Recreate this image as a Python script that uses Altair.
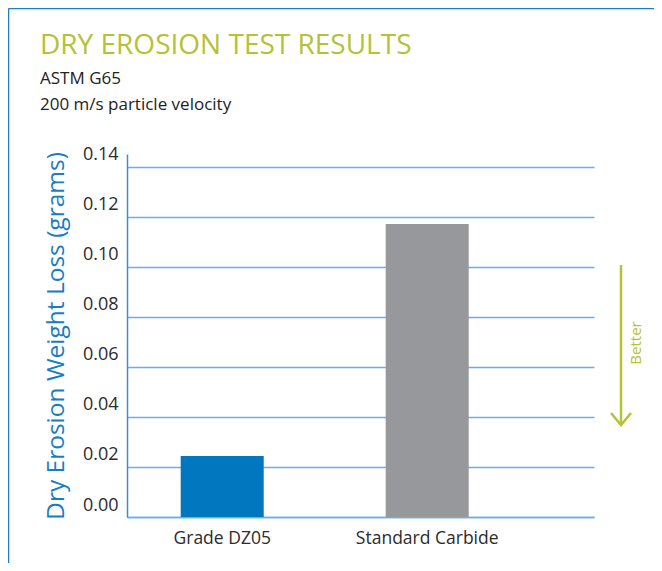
import altair as alt
import pandas as pd

categories = ["Grade DZ05", "Standard Carbide"]
values = [0.0244, 0.117]
bar_colors = ["#0077BE", "#97989C"]
y_ticks = [0.0, 0.02, 0.04, 0.06, 0.08, 0.10, 0.12, 0.14]

title_text = "DRY EROSION TEST RESULTS"
subtitle_lines = ["ASTM G65", "200 m/s particle velocity"]
y_title = "Dry Erosion Weight Loss (grams)"
arrow_label = "Better"

FONT = "Open Sans"
GREEN = "#B4C236"
BLUE = "#1A7DC4"
GRID = "#6AB1E2"

df = pd.DataFrame({"cat": categories, "val": values, "color": bar_colors})

W, H = 467, 363
PAD_R, PAD_B = 60, 46

bars = alt.Chart(df).mark_bar().encode(
    x=alt.X("cat:N", sort=categories, title=None,
            scale=alt.Scale(paddingInner=0.595, paddingOuter=0.4366, align=0.30),
            axis=alt.Axis(labelAngle=0, labelFontSize=17.5, labelFont=FONT, labelColor="#2B2B2B",
                          labelPadding=12, ticks=False, domainColor=GRID, domainWidth=1.5)),
    y=alt.Y("val:Q", title=y_title,
            scale=alt.Scale(domain=[0, 0.145], nice=False),
            axis=alt.Axis(values=y_ticks, format=".2f", labelFontSize=18, labelFont=FONT,
                          labelColor="#2B2B2B", labelOffset=-12, labelPadding=9, ticks=False,
                          domainColor="#3A8FD0", domainWidth=1.5,
                          gridColor=GRID, gridWidth=1.5,
                          titleFont=FONT, titleFontSize=24.5, titleFontWeight="normal",
                          titleColor=BLUE, titlePadding=14)),
    color=alt.Color("color:N", scale=None),
)

one = pd.DataFrame({"t": [arrow_label]})

arrow_line = alt.Chart(one).mark_rule(color=GREEN, strokeWidth=2.5).encode(
    x=alt.value(494), y=alt.value(111), y2=alt.value(271)
)
arrow_head = alt.Chart(one).mark_point(
    shape="M-1,-1.2L0,0L1,-1.2", filled=False, color=GREEN, strokeWidth=2.5, size=400, opacity=1
).encode(x=alt.value(494), y=alt.value(271))
arrow_text = alt.Chart(one).mark_text(
    angle=270, font=FONT, fontSize=15, color=GREEN, align="center", baseline="middle"
).encode(x=alt.value(509), y=alt.value(189), text="t:N")

frame_top = alt.Chart(one).mark_rule(color="#1F7EC2", strokeWidth=1.5).encode(
    x=alt.value(-118.5), x2=alt.value(W + PAD_R), y=alt.value(-145.5)
)
frame_left = alt.Chart(one).mark_rule(color="#1F7EC2", strokeWidth=1.5).encode(
    x=alt.value(-118.5), y=alt.value(-145.5), y2=alt.value(H + PAD_B)
)

chart = alt.layer(bars, arrow_line, arrow_head, arrow_text, frame_top, frame_left).properties(
    width=W, height=H,
    autosize=alt.AutoSizeParams(type="none"),
    padding={"left": 119, "top": 146, "right": PAD_R, "bottom": PAD_B},
    title=alt.TitleParams(
        text=title_text, subtitle=subtitle_lines, anchor="start", frame="group",
        dx=-87, dy=135, font=FONT, fontSize=28, fontWeight="normal", color=GREEN,
        subtitleFont=FONT, subtitleFontSize=17, subtitleColor="#222222",
        subtitleLineHeight=26, subtitlePadding=11, offset=30,
    ),
).configure(background="white").configure_view(stroke="transparent", strokeWidth=0)

chart.save("out.html", embed_options={"renderer": "svg", "actions": False})
